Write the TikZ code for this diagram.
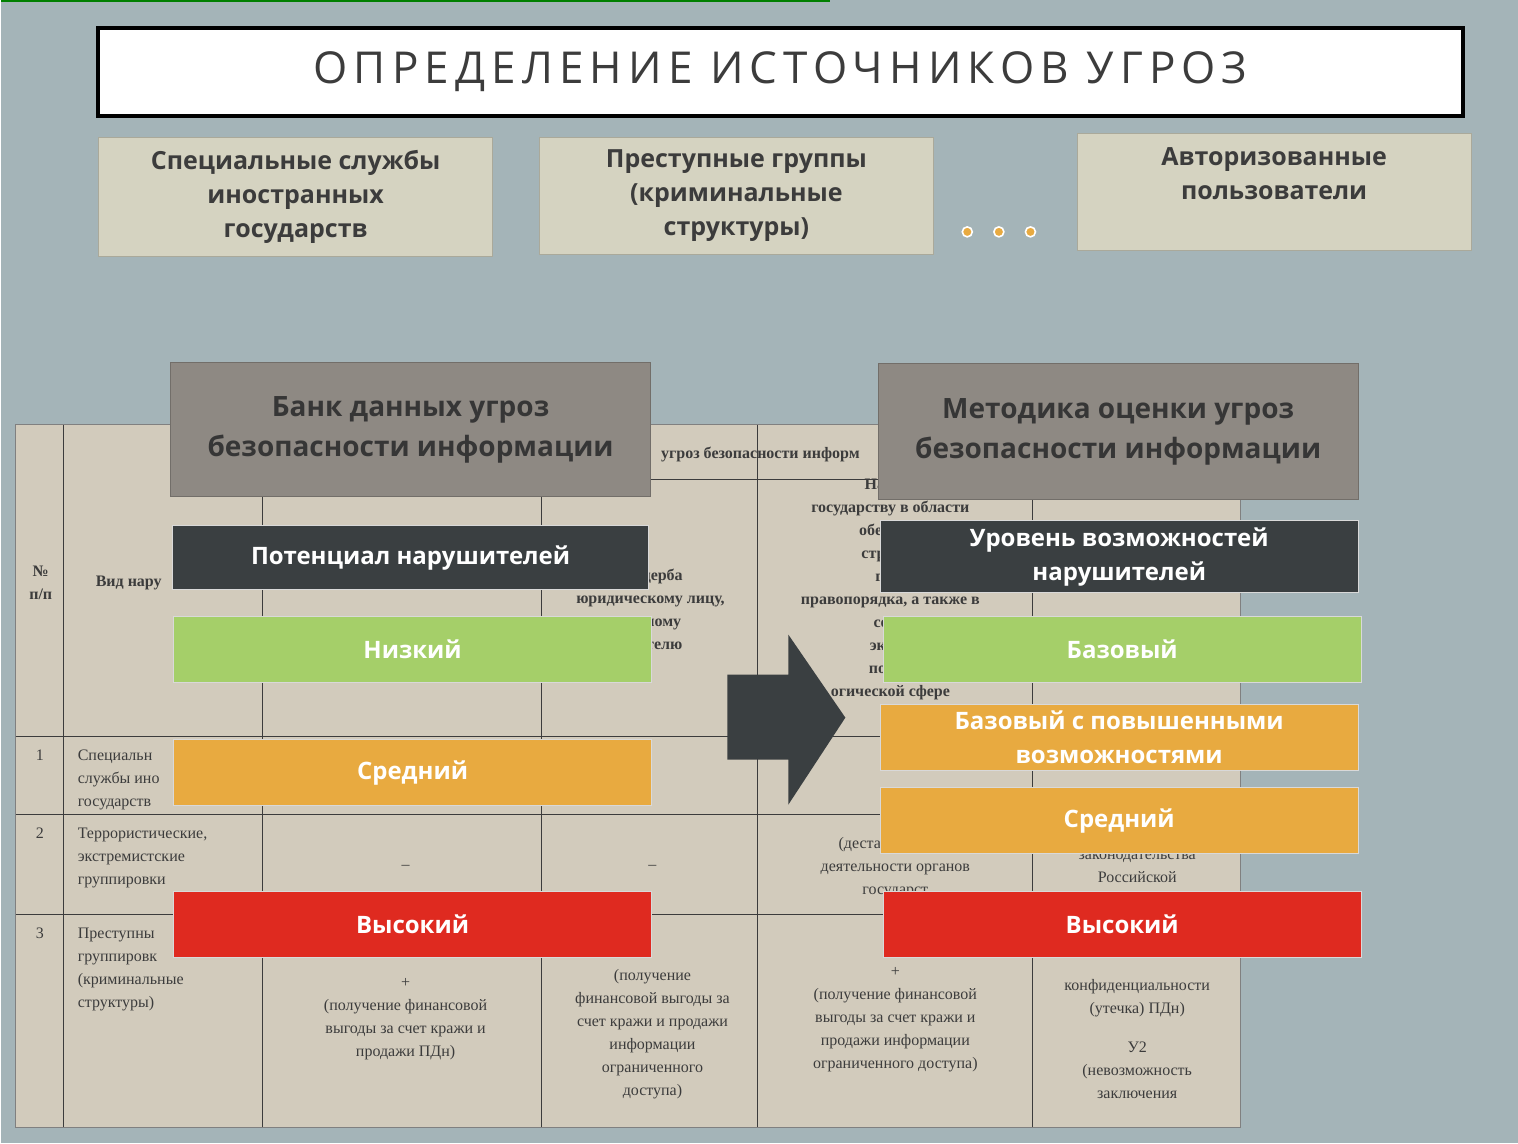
\documentclass[tikz,border=0pt]{standalone}
\usepackage{fontspec}
\setmainfont{Liberation Serif}
\newfontfamily\boxfont{Open Sans}
\usetikzlibrary{positioning}
\definecolor{slidebg}{HTML}{A4B4B8}
\definecolor{paper}{HTML}{D2CBBC}
\definecolor{beige}{HTML}{D5D3C1}
\definecolor{taupe}{HTML}{8E8983}
\definecolor{slate}{HTML}{3A3F41}
\definecolor{lgreen}{HTML}{A5CF69}
\definecolor{amber}{HTML}{E8AA40}
\definecolor{scarlet}{HTML}{DF2A20}
\definecolor{ink}{HTML}{3C3C3C}
\tikzset{
    srcbox/.style = {draw=beige!80!black, fill=beige, font=\boxfont\bfseries\fontsize{12.5}{17}\selectfont, text=ink, align=center},
    headbox/.style = {draw=taupe!80!black, fill=taupe, font=\boxfont\bfseries\fontsize{14}{20}\selectfont, text=ink!90!black, align=center},
    levelbox/.style = {draw=white!70!gray, fill=#1, font=\boxfont\bfseries\fontsize{12}{17}\selectfont, text=white, align=center},
    cell/.style = {font=\fontsize{8}{11.5}\selectfont, text=ink, align=center},
    dot/.style = {circle, draw=white, fill=amber, inner sep=0pt, minimum size=5pt, thick}
}
\begin{document}
\begin{tikzpicture}[x=0.5pt, y=-0.5pt]
\fill[slidebg] (0,0) rectangle (1518,1144);
\draw[green!50!black, thick] (0,1) -- (830,1);
% title
\node[draw=black, line width=2pt, fill=white, minimum width=683pt, minimum height=44pt,
      font=\boxfont\fontsize{22}{26}\selectfont, text=ink] (title) at (780,72)
      {\addfontfeature{LetterSpace=14}ОПРЕДЕЛЕНИЕ ИСТОЧНИКОВ УГРОЗ};
% sources
\node[srcbox, minimum width=197pt, minimum height=60pt] (spec) at (295,197) {Специальные службы\\иностранных\\государств};
\node[srcbox, minimum width=197pt, minimum height=59pt] (crim) at (736,196) {Преступные группы\\(криминальные\\структуры)};
\node[srcbox, minimum width=197pt, minimum height=59pt, text depth=18pt] (auth) at (1274,192) {Авторизованные\\пользователи};
\node[dot] (d1) at (967,232) {};
\node[dot, right=10pt of d1] (d2) {};
\node[dot, right=10pt of d2] (d3) {};
% table
\fill[paper, draw=gray] (15,425) rectangle (1240,1128);
\foreach \x in {63,262,541,757,1032} \draw[ink] (\x,425) -- (\x,1128);
\draw[ink] (541,480) -- (1240,480);
\foreach \y in {737,815,915} \draw[ink] (15,\y) -- (1240,\y);
\node[cell] (np) at (40,583) {\textbf{№}\\\textbf{п/п}};
\node[cell, anchor=west] (vid) at (88,583) {\textbf{Вид нару}};
\node[cell] (hd) at (760,455) {\textbf{угроз безопасности информ}};
\node[cell] (c3) at (650,610) {\textbf{е ущерба}\\\textbf{юридическому лицу,}\\\textbf{альному}\\\textbf{имателю}};
\node[cell] (c4) at (890,590) {\textbf{Нанесе}\\\textbf{государству в области}\\\textbf{обеспече}\\\textbf{страны,}\\\textbf{госу}\\\textbf{правопорядка, а также в}\\\textbf{соци}\\\textbf{эконо}\\\textbf{полит}\\\textbf{огической сфере}};
\node[cell, anchor=north west] (r1) at (28,743) {1};
\node[cell, anchor=north west, align=left] (r1t) at (70,743) {Специальн\\службы ино\\государств};
\node[cell, anchor=north west] (r2) at (28,821) {2};
\node[cell, anchor=north west, align=left] (r2t) at (70,821) {Террористические,\\экстремистские\\группировки};
\node[cell] at (405,868) {--};
\node[cell] at (652,868) {--};
\node[cell] at (895,868) {(дестабилизация\\деятельности органов\\государст};
\node[cell] at (1137,868) {законодательства\\Российской};
\node[cell, anchor=north west] (r3) at (28,921) {3};
\node[cell, anchor=north west, align=left] (r3t) at (70,921) {Преступны\\группировк\\(криминальные\\структуры)};
\node[cell] at (405,1020) {+\\(получение финансовой\\выгоды за счет кражи и\\продажи ПДн)};
\node[cell] at (652,1035) {(получение\\финансовой выгоды за\\счет кражи и продажи\\информации\\ограниченного\\доступа)};
\node[cell] at (895,1020) {+\\(получение финансовой\\выгоды за счет кражи и\\продажи информации\\ограниченного доступа)};
\node[cell] at (1137,1040) {конфиденциальности\\(утечка) ПДн)\\[8pt]У2\\(невозможность\\заключения};
% headers
\node[headbox, minimum width=240pt, minimum height=67pt] (bank) at (410,430) {Банк данных угроз\\безопасности информации};
\node[headbox, minimum width=240pt, minimum height=68pt] (meth) at (1118,432) {Методика оценки угроз\\безопасности информации};
% left levels
\node[levelbox=slate, minimum width=238pt, minimum height=32pt] (potl) at (410,558) {Потенциал нарушителей};
\node[levelbox=lgreen, minimum width=239pt, minimum height=33pt] (lowl) at (412,650) {Низкий};
\node[levelbox=amber, minimum width=239pt, minimum height=33pt] (midl) at (412,773) {Средний};
\node[levelbox=scarlet, minimum width=239pt, minimum height=33pt] (highl) at (412,925) {Высокий};
% right levels
\node[levelbox=slate, minimum width=239pt, minimum height=33pt] (potr) at (1119,557) {Уровень возможностей\\нарушителей};
\node[levelbox=lgreen, minimum width=239pt, minimum height=33pt] (basr) at (1122,650) {Базовый};
\node[levelbox=amber, minimum width=239pt, minimum height=33pt] (basp) at (1119,738) {Базовый с повышенными\\возможностями};
\node[levelbox=amber, minimum width=239pt, minimum height=33pt] (midr) at (1119,821) {Средний};
\node[levelbox=scarlet, minimum width=239pt, minimum height=33pt] (highr) at (1122,925) {Высокий};
% arrow
\fill[slate] (727,675) -- (788,675) -- (788,635) -- (845,718) -- (788,805) -- (788,760) -- (727,760) -- cycle;
\end{tikzpicture}
\end{document}
